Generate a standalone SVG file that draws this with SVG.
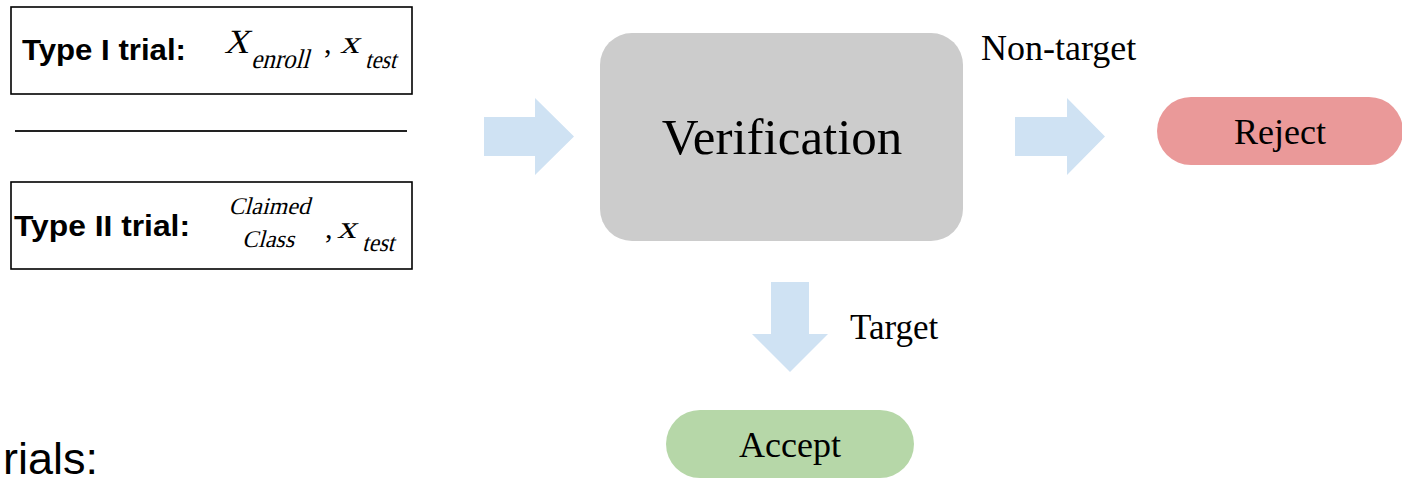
<svg xmlns="http://www.w3.org/2000/svg" width="1402" height="479" viewBox="0 0 1402 479">
<style>
.box{fill:#fff;stroke:#000;stroke-width:1.6}
.lbl{font-family:"Liberation Sans",Arial,sans-serif;font-weight:bold;font-size:29px;fill:#000}
.m{font-family:"Liberation Serif","Times New Roman",serif;fill:#000}
.t{font-family:"Liberation Serif","Times New Roman",serif;fill:#000}
.arr{fill:#cfe2f3}
</style>
<g id="type1">
<rect class="box" x="11" y="7" width="401" height="87"/>
<text class="lbl" x="22" y="60" textLength="164" lengthAdjust="spacingAndGlyphs">Type I trial:</text>
<text class="m" transform="translate(224,53) skewX(-15)" font-size="34">X</text>
<text class="m" transform="translate(251,68) skewX(-15)" font-size="27" textLength="58" lengthAdjust="spacingAndGlyphs">enroll</text>
<text class="m" transform="translate(324,53)" font-size="30">,</text>
<text class="m" transform="translate(340,53) skewX(-15)" font-size="32" textLength="19" lengthAdjust="spacingAndGlyphs">x</text>
<text class="m" transform="translate(365,68) skewX(-15)" font-size="25" textLength="31" lengthAdjust="spacingAndGlyphs">test</text>
</g>
<g id="divider">
<line x1="15" y1="131" x2="407" y2="131" stroke="#222" stroke-width="2"/>
</g>
<g id="type2">
<rect class="box" x="11" y="182" width="401" height="87"/>
<text class="lbl" x="14" y="236" textLength="176" lengthAdjust="spacingAndGlyphs">Type II trial:</text>
<text class="m" transform="translate(269,214) skewX(-15)" font-size="24" text-anchor="middle">Claimed</text>
<text class="m" transform="translate(268,247) skewX(-15)" font-size="24" text-anchor="middle">Class</text>
<text class="m" transform="translate(325,238)" font-size="30">,</text>
<text class="m" transform="translate(337,238) skewX(-15)" font-size="32" textLength="19" lengthAdjust="spacingAndGlyphs">x</text>
<text class="m" transform="translate(362,251) skewX(-15)" font-size="25" textLength="32" lengthAdjust="spacingAndGlyphs">test</text>
</g>
<g id="verification">
<rect x="600" y="33" width="363" height="208" rx="32" fill="#cccccc"/>
<text class="t" x="782" y="154" font-size="51" text-anchor="middle">Verification</text>
</g>
<g id="reject">
<rect x="1157" y="97" width="246" height="68" rx="34" fill="#ea9999"/>
<text class="t" x="1280" y="144" font-size="36" text-anchor="middle">Reject</text>
</g>
<g id="accept">
<rect x="666" y="410" width="248" height="68" rx="34" fill="#b6d7a8"/>
<text class="t" x="790" y="457" font-size="36" text-anchor="middle">Accept</text>
</g>
<g id="connectors">
<polygon class="arr" points="484,117 535,117 535,98 574,136.5 535,175 535,156 484,156"/>
<polygon class="arr" points="1015,117 1067,117 1067,98 1105,136.5 1067,175 1067,156 1015,156"/>
<polygon class="arr" points="771,282 809,282 809,334 828,334 790,372 752,334 771,334"/>
<text class="t" x="981" y="60" font-size="36">Non-target</text>
<text class="t" x="850" y="339" font-size="35">Target</text>
</g>
<g id="footer">
<text x="3" y="474" font-family="'Liberation Sans',Arial,sans-serif" font-size="45" fill="#000">rials:</text>
</g>
</svg>
